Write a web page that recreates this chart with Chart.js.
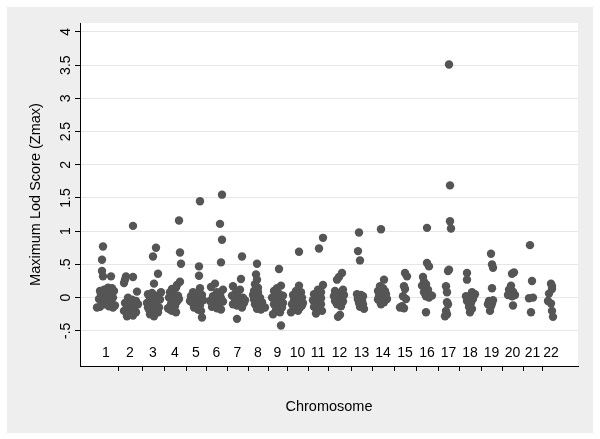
<!DOCTYPE html>
<html>
<head>
<meta charset="utf-8">
<script src="https://cdn.jsdelivr.net/npm/chart.js@4.4.1/dist/chart.umd.min.js"></script>
<style>
  html, body { margin: 0; padding: 0; background: #fff; }
  #wrap { width: 600px; height: 439px; }
</style>
</head>
<body>
<div id="wrap"><canvas id="lodChart" width="600" height="439"></canvas></div>
<script>
// chromosome labels and their boundaries along the genome axis (arbitrary position units)
const chromosomes = ['1','2','3','4','5','6','7','8','9','10','11','12','13','14','15','16','17','18','19','20','21','22'];
const chrStart = 14;
const chrEnd = 480;
const boundaries = [38, 62, 84, 106, 126, 147, 168, 188, 207, 228, 248, 271, 292, 314, 336, 358, 379, 401, 422, 443, 462];

// y axis ticks
const yTicks = [-0.5, 0, 0.5, 1, 1.5, 2, 2.5, 3, 3.5, 4];
const yLabels = ['-.5', '0', '.5', '1', '1.5', '2', '2.5', '3', '3.5', '4'];

// markers: [position, Zmax] for each chromosome
const chr1 = [[23,0.77],[22,0.57],[22,0.40],[23,0.32],[31,0.32],[20,0.10],[24,0.12],[28,0.15],[32,0.14],[34,0.10],[21,0.05],[26,0.06],[30,0.02],[33,0.0],[19,-0.02],[23,-0.05],[27,-0.08],[31,-0.06],[35,-0.12],[20,-0.14],[25,-0.10],[29,-0.13],[33,-0.15],[17,-0.15],[24,0.0],[28,-0.02]];
const chr2 = [[53,1.08],[46,0.32],[53,0.31],[44,0.22],[45,0.27],[57,0.09],[48,0.0],[52,-0.03],[56,-0.05],[45,-0.08],[50,-0.1],[54,-0.12],[58,-0.1],[47,-0.15],[51,-0.18],[55,-0.2],[44,-0.2],[49,-0.24],[53,-0.27],[47,-0.28],[56,-0.22],[51,-0.06]];
const chr3 = [[76,0.75],[73,0.62],[78,0.36],[74,0.21],[81,0.08],[68,0.05],[72,0.07],[77,0.03],[70,-0.02],[75,-0.04],[80,-0.03],[67,-0.08],[71,-0.12],[76,-0.1],[79,-0.15],[69,-0.18],[73,-0.2],[78,-0.22],[70,-0.25],[74,-0.28],[68,-0.15]];
const chr4 = [[99,1.16],[100,0.68],[101,0.51],[100,0.24],[97,0.19],[92,0.13],[96,0.15],[90,0.08],[94,0.05],[98,0.03],[89,0.0],[93,-0.03],[97,-0.06],[91,-0.1],[95,-0.13],[88,-0.16],[92,-0.2],[96,-0.22],[90,-0.18],[99,-0.02]];
const chr5 = [[120,1.45],[119,0.47],[119,0.33],[120,0.14],[113,0.08],[117,0.06],[122,0.04],[111,0.02],[115,0.0],[119,-0.02],[123,-0.04],[112,-0.07],[116,-0.1],[120,-0.12],[114,-0.15],[118,-0.18],[121,-0.2],[122,-0.3],[110,-0.05]];
const chr6 = [[142,1.55],[140,1.11],[142,0.87],[141,0.53],[135,0.21],[143,0.12],[131,0.16],[137,0.08],[140,0.05],[133,0.02],[136,-0.02],[141,-0.01],[130,-0.05],[134,-0.08],[139,-0.1],[143,-0.06],[132,-0.14],[137,-0.16],[141,-0.18],[135,0.0]];
const chr7 = [[162,0.62],[161,0.28],[153,0.17],[160,0.12],[156,0.08],[152,0.03],[158,0.02],[163,0.0],[155,-0.03],[160,-0.05],[164,-0.08],[153,-0.1],[157,-0.12],[162,-0.15],[157,-0.32],[165,-0.04]];
const chr8 = [[177,0.51],[176,0.35],[177,0.27],[175,0.2],[178,0.15],[174,0.1],[178,0.08],[173,0.04],[176,0.02],[180,0.0],[174,-0.03],[178,-0.05],[182,-0.07],[175,-0.1],[179,-0.12],[183,-0.14],[177,-0.17],[181,-0.18],[185,-0.15]];
const chr9 = [[199,0.43],[201,0.18],[197,0.14],[194,0.1],[199,0.06],[203,0.03],[192,0.0],[196,-0.02],[200,-0.04],[203,-0.08],[194,-0.1],[198,-0.13],[202,-0.15],[196,-0.19],[200,-0.22],[193,-0.25],[201,-0.42],[197,-0.06]];
const chr10 = [[219,0.69],[219,0.18],[216,0.1],[221,0.08],[213,0.04],[217,0.02],[222,0.0],[214,-0.04],[218,-0.06],[223,-0.08],[212,-0.1],[216,-0.13],[220,-0.15],[214,-0.18],[218,-0.2],[222,-0.12],[211,-0.22]];
const chr11 = [[243,0.9],[239,0.74],[243,0.19],[238,0.12],[241,0.08],[234,0.05],[237,0.02],[241,-0.01],[233,-0.04],[237,-0.06],[241,-0.1],[234,-0.14],[238,-0.16],[242,-0.2],[236,-0.24],[240,0.03]];
const chr12 = [[262,0.37],[259,0.31],[257,0.27],[263,0.12],[256,0.08],[260,0.06],[264,0.04],[254,0.02],[258,0.0],[262,-0.02],[255,-0.05],[259,-0.07],[263,-0.06],[257,-0.1],[261,-0.13],[260,-0.26],[258,-0.29],[255,0.1]];
const chr13 = [[279,0.98],[278,0.7],[280,0.56],[277,0.05],[281,0.04],[283,0.02],[278,-0.01],[282,-0.04],[279,-0.08],[283,-0.1],[280,-0.14],[284,-0.17],[278,-0.03]];
const chr14 = [[301,1.03],[304,0.27],[300,0.17],[303,0.14],[298,0.1],[302,0.07],[306,0.05],[299,0.02],[303,0.0],[307,-0.02],[300,-0.05],[304,-0.07],[301,-0.1],[305,0.1],[298,-0.03]];
const chr15 = [[325,0.37],[327,0.32],[324,0.17],[325,0.13],[323,0.02],[326,-0.02],[322,-0.13],[324,-0.16],[320,-0.15]];
const chr16 = [[347,1.05],[347,0.52],[349,0.47],[343,0.31],[344,0.24],[346,0.2],[345,0.15],[348,0.12],[344,0.08],[347,0.05],[350,0.04],[346,0.02],[349,0.0],[352,0.03],[346,-0.22],[342,0.18]];
const chr17 = [[369,3.51],[370,1.69],[370,1.15],[371,1.04],[369,0.42],[368,0.4],[366,0.17],[367,0.08],[367,-0.07],[368,-0.1],[366,-0.2],[367,-0.25],[365,-0.28]];
const chr18 = [[387,0.37],[387,0.27],[392,0.08],[395,0.05],[390,0.0],[393,-0.02],[387,-0.05],[391,-0.08],[389,-0.14],[392,-0.17],[390,-0.22],[386,0.02]];
const chr19 = [[411,0.66],[412,0.5],[413,0.45],[412,0.14],[409,-0.05],[413,-0.04],[412,-0.09],[411,-0.13],[410,-0.2],[408,-0.1]];
const chr20 = [[432,0.36],[434,0.38],[431,0.18],[429,0.12],[433,0.09],[430,0.06],[435,0.04],[432,0.02],[428,0.04],[433,-0.12]];
const chr21 = [[450,0.79],[452,0.25],[449,-0.01],[453,0.0],[451,-0.22]];
const chr22 = [[471,0.21],[472,0.17],[472,0.13],[469,0.06],[468,-0.05],[471,-0.09],[472,-0.2],[473,-0.29]];

const allChr = [chr1, chr2, chr3, chr4, chr5, chr6, chr7, chr8, chr9, chr10, chr11,
                chr12, chr13, chr14, chr15, chr16, chr17, chr18, chr19, chr20, chr21, chr22];

const edges = [chrStart, ...boundaries, chrEnd];
const chrCenters = chromosomes.map((c, i) => (edges[i] + edges[i + 1]) / 2);

const points = [];
allChr.forEach(arr => arr.forEach(p => points.push({ x: p[0], y: p[1] })));

const FONT = "'Liberation Sans', Arial, Helvetica, sans-serif";

// gray graph region, white plot region, and the stata-like labels
const stataFrame = {
    id: 'stataFrame',
    beforeDraw(chart) {
        const { ctx, chartArea: a } = chart;
        ctx.save();
        ctx.fillStyle = '#ffffff';
        ctx.fillRect(0, 0, chart.width, chart.height);
        ctx.fillStyle = '#eeeeee';
        ctx.fillRect(7, 7, chart.width - 14, chart.height - 13);
        ctx.fillStyle = '#ffffff';
        ctx.fillRect(a.left, a.top, a.right - a.left, a.bottom - a.top);
        ctx.restore();
    },
    afterDraw(chart) {
        const { ctx, chartArea: a } = chart;
        const xs = chart.scales.x;
        const ys = chart.scales.y;
        ctx.save();
        ctx.fillStyle = '#000';
        ctx.font = '14px ' + FONT;
        ctx.textAlign = 'center';
        ctx.textBaseline = 'middle';
        // chromosome numbers sit inside the plot, just above the axis
        chromosomes.forEach((c, i) => {
            ctx.fillText(c, xs.getPixelForValue(chrCenters[i]), a.bottom - 13);
        });
        // rotated y tick labels
        yTicks.forEach((v, i) => {
            ctx.save();
            ctx.translate(a.left - 14, ys.getPixelForValue(v));
            ctx.rotate(-Math.PI / 2);
            ctx.fillText(yLabels[i], 0, 0);
            ctx.restore();
        });
        ctx.restore();
    }
};

const ctx = document.getElementById('lodChart').getContext('2d');
const lodChart = new Chart(ctx, {
    type: 'scatter',
    data: {
        datasets: [{
            label: 'Zmax',
            data: points,
            backgroundColor: '#555555',
            borderWidth: 0,
            pointRadius: 4.2,
            pointHoverRadius: 4.2
        }]
    },
    options: {
        responsive: false,
        animation: false,
        events: [],
        layout: {
            padding: { top: 23, right: 22, left: 0, bottom: 0 }
        },
        plugins: {
            legend: { display: false },
            tooltip: { enabled: false }
        },
        scales: {
            x: {
                type: 'linear',
                min: 0,
                max: 498,
                afterBuildTicks: (scale) => {
                    scale.ticks = boundaries.map(v => ({ value: v }));
                },
                afterFit: (scale) => { scale.height = 73; },
                ticks: { display: false },
                grid: {
                    drawOnChartArea: false,
                    drawTicks: true,
                    tickLength: 5,
                    tickColor: '#000'
                },
                border: { display: true, color: '#000', width: 1 },
                title: {
                    display: true,
                    text: 'Chromosome',
                    color: '#000',
                    font: { family: FONT, size: 14.5 },
                    padding: { top: 0, bottom: 23 }
                }
            },
            y: {
                min: -1.03,
                max: 4.135,
                afterBuildTicks: (scale) => {
                    scale.ticks = yTicks.map(v => ({ value: v }));
                },
                afterFit: (scale) => { scale.width = 80; },
                ticks: { display: false },
                grid: {
                    color: '#e6e6e6',
                    lineWidth: 1,
                    drawTicks: true,
                    tickLength: 5,
                    tickColor: '#000'
                },
                border: { display: true, color: '#000', width: 1 },
                title: {
                    display: true,
                    text: 'Maximum Lod Score (Zmax)',
                    color: '#000',
                    font: { family: FONT, size: 14.5 },
                    padding: { top: 27, bottom: 0 }
                }
            }
        }
    },
    plugins: [stataFrame]
});
</script>
</body>
</html>
